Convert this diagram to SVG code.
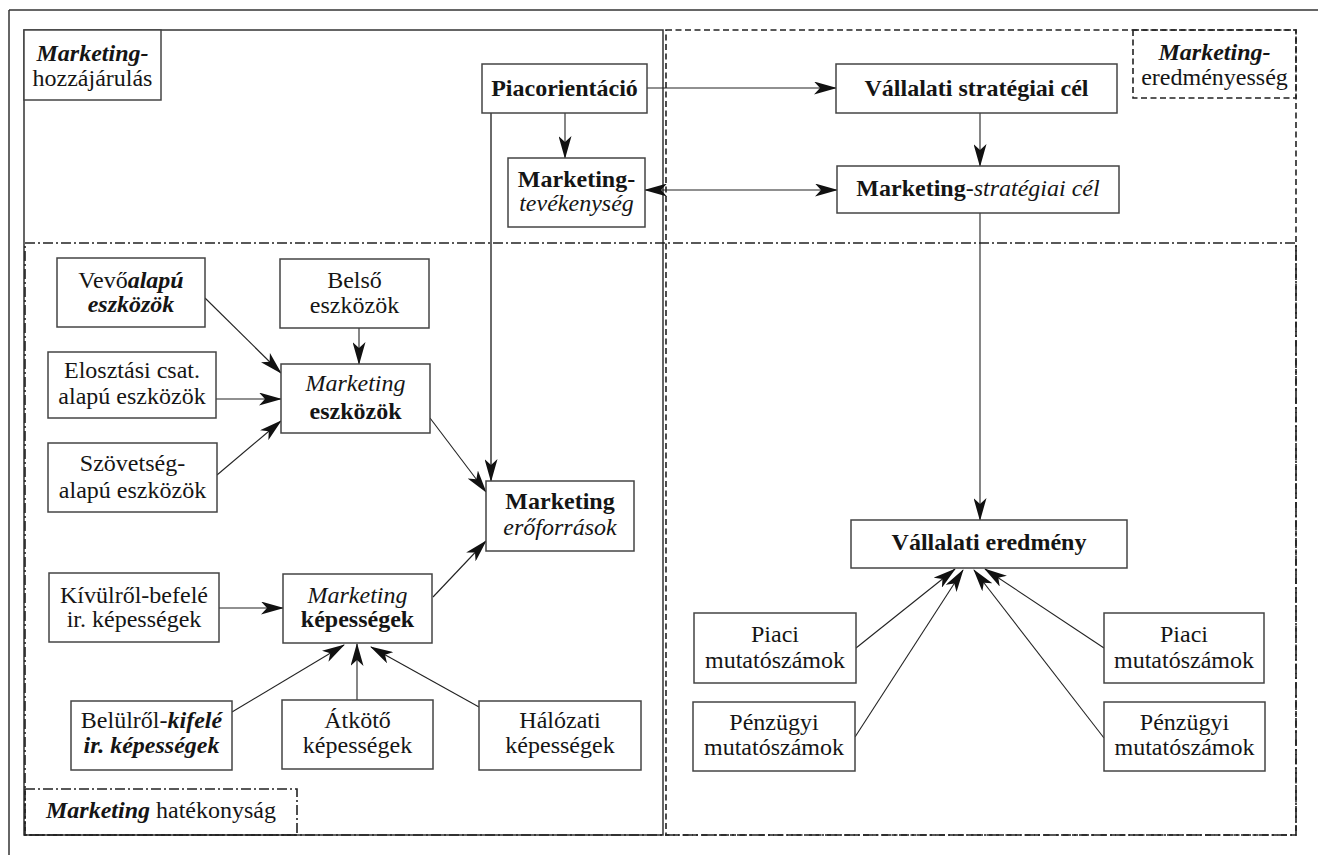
<svg xmlns="http://www.w3.org/2000/svg" width="1318" height="855" viewBox="0 0 1318 855" font-family="'Liberation Serif', 'Times New Roman', serif">
<style>
text{font-family:"Liberation Serif","Times New Roman",serif;font-size:24px;fill:#151515;text-anchor:middle}
.b{font-weight:bold}
.i{font-style:italic}
.bi{font-weight:bold;font-style:italic}
.box{fill:#fff;stroke:#444;stroke-width:1.5}
.con{stroke:#222;stroke-width:1.1;fill:none}
.gray{stroke:#6a6a6a;stroke-width:2}
.solid{fill:none;stroke:#333;stroke-width:1.5}
.dash{fill:none;stroke:#222;stroke-width:1.6;stroke-dasharray:6 3.5}
.dashdot{fill:none;stroke:#222;stroke-width:1.6;stroke-dasharray:10 3 2 3}
</style>
<defs>
<marker id="ah" markerUnits="userSpaceOnUse" markerWidth="23" markerHeight="13" refX="22" refY="6.5" orient="auto-start-reverse" viewBox="0 0 23 13">
<path d="M0,0 L23,6.5 L0,13 L6,6.5 z" fill="#111"/>
</marker>
</defs>

<g id="frame">
<line x1="9" y1="10" x2="1318" y2="10" class="solid"/>
<line x1="9" y1="10" x2="9" y2="855" class="solid"/>
</g>

<g id="regions">
<rect id="region-hozzajarulas" x="24" y="30" width="639" height="805" class="solid"/>
<rect id="region-eredmenyesseg" x="666" y="30" width="630" height="805" class="dash"/>
<rect id="region-hatekonysag" x="25" y="243" width="1271" height="592" class="dashdot"/>
</g>

<g id="region-labels">
<g id="label-hozzajarulas">
<rect x="24" y="30" width="137" height="70" fill="#fff" stroke="#444" stroke-width="1.5"/>
<text x="92.5" y="61"><tspan class="bi">Marketing-</tspan></text>
<text x="92.5" y="86">hozzájárulás</text>
</g>
<g id="label-eredmenyesseg">
<rect x="1133" y="30" width="163" height="68" fill="#fff" class="dash"/>
<text x="1214.5" y="60"><tspan class="bi">Marketing-</tspan></text>
<text x="1214.5" y="85">eredményesség</text>
</g>
<g id="label-hatekonysag">
<rect x="25" y="789" width="272" height="46" fill="#fff" class="dashdot"/>
<text x="161" y="818"><tspan class="bi">Marketing</tspan> hatékonyság</text>
</g>
</g>

<g id="connectors">
<line class="con" x1="647" y1="88" x2="836" y2="88" marker-end="url(#ah)"/>
<line class="con" x1="565" y1="113" x2="565" y2="158" marker-end="url(#ah)"/>
<line class="con" x1="645" y1="190" x2="837" y2="190" marker-start="url(#ah)" marker-end="url(#ah)"/>
<line class="con" x1="980" y1="113" x2="980" y2="166" marker-end="url(#ah)"/>
<line class="con" x1="980" y1="213" x2="980" y2="520" marker-end="url(#ah)"/>
<line class="con gray" x1="491" y1="113" x2="491" y2="481" marker-end="url(#ah)"/>
<line class="con" x1="205" y1="298" x2="281" y2="373" marker-end="url(#ah)"/>
<line class="con" x1="359" y1="328" x2="359" y2="364" marker-end="url(#ah)"/>
<line class="con" x1="216" y1="399" x2="281" y2="399" marker-end="url(#ah)"/>
<line class="con" x1="217" y1="475" x2="281" y2="421" marker-end="url(#ah)"/>
<line class="con" x1="430" y1="418" x2="486" y2="492" marker-end="url(#ah)"/>
<line class="con" x1="219" y1="608" x2="283" y2="608" marker-end="url(#ah)"/>
<line class="con" x1="433" y1="597" x2="486" y2="541" marker-end="url(#ah)"/>
<line class="con" x1="232" y1="712" x2="344" y2="645" marker-end="url(#ah)"/>
<line class="con" x1="357" y1="700" x2="357" y2="644" marker-end="url(#ah)"/>
<line class="con" x1="479" y1="707" x2="371" y2="647" marker-end="url(#ah)"/>
<line class="con" x1="856" y1="648" x2="955" y2="569" marker-end="url(#ah)"/>
<line class="con" x1="855" y1="737" x2="963" y2="570" marker-end="url(#ah)"/>
<line class="con" x1="1104" y1="738" x2="974" y2="570" marker-end="url(#ah)"/>
<line class="con" x1="1104" y1="648" x2="985" y2="569" marker-end="url(#ah)"/>
</g>

<g id="piacorientacio">
<rect class="box" x="482" y="64" width="165" height="49"/>
<text x="564.5" y="96" class="b">Piacorientáció</text>
</g>
<g id="marketing-tevekenyseg">
<rect class="box" x="508" y="158" width="137" height="69"/>
<text x="576.5" y="187" class="b">Marketing-</text>
<text x="576.5" y="211" class="i">tevékenység</text>
</g>
<g id="vallalati-strategiai-cel">
<rect class="box" x="836" y="64" width="281" height="49"/>
<text x="976.5" y="96" class="b">Vállalati stratégiai cél</text>
</g>
<g id="marketing-strategiai-cel">
<rect class="box" x="837" y="166" width="282" height="47"/>
<text x="978" y="196"><tspan class="b">Marketing</tspan><tspan class="i">-stratégiai cél</tspan></text>
</g>

<g id="vevoalapu">
<rect class="box" x="57" y="258" width="148" height="69"/>
<text x="131" y="288">Vevő<tspan class="bi">alapú</tspan></text>
<text x="131" y="312" class="bi">eszközök</text>
</g>
<g id="belso">
<rect class="box" x="280" y="259" width="149" height="69"/>
<text x="354.5" y="288">Belső</text>
<text x="354.5" y="313">eszközök</text>
</g>
<g id="elosztasi">
<rect class="box" x="48" y="352" width="168" height="66"/>
<text x="132" y="378">Elosztási csat.</text>
<text x="132" y="404">alapú eszközök</text>
</g>
<g id="marketing-eszkozok">
<rect class="box" x="281" y="364" width="149" height="69"/>
<text x="355.5" y="391" class="i">Marketing</text>
<text x="355.5" y="419" class="b">eszközök</text>
</g>
<g id="szovetseg">
<rect class="box" x="48" y="443" width="169" height="69"/>
<text x="132.5" y="471">Szövetség-</text>
<text x="132.5" y="498">alapú eszközök</text>
</g>
<g id="marketing-eroforrasok">
<rect class="box" x="486" y="481" width="148" height="70"/>
<text x="560" y="509" class="b">Marketing</text>
<text x="560" y="535" class="i">erőforrások</text>
</g>
<g id="kivulrol">
<rect class="box" x="49" y="573" width="170" height="69"/>
<text x="134" y="603">Kívülről-befelé</text>
<text x="134" y="627">ir. képességek</text>
</g>
<g id="marketing-kepessegek">
<rect class="box" x="283" y="574" width="149" height="69"/>
<text x="357.5" y="603" class="i">Marketing</text>
<text x="357.5" y="627" class="b">képességek</text>
</g>
<g id="belulrol">
<rect class="box" x="71" y="701" width="161" height="69"/>
<text x="151.5" y="728">Belülről-<tspan class="bi">kifelé</tspan></text>
<text x="151.5" y="753" class="bi">ir. képességek</text>
</g>
<g id="atkoto">
<rect class="box" x="282" y="700" width="151" height="69"/>
<text x="357.5" y="728">Átkötő</text>
<text x="357.5" y="753">képességek</text>
</g>
<g id="halozati">
<rect class="box" x="479" y="701" width="162" height="69"/>
<text x="560" y="728">Hálózati</text>
<text x="560" y="753">képességek</text>
</g>

<g id="vallalati-eredmeny">
<rect class="box" x="851" y="520" width="276" height="48"/>
<text x="989" y="550" class="b">Vállalati eredmény</text>
</g>
<g id="piaci-bal">
<rect class="box" x="694" y="613" width="162" height="70"/>
<text x="775" y="642">Piaci</text>
<text x="775" y="668">mutatószámok</text>
</g>
<g id="penzugyi-bal">
<rect class="box" x="693" y="702" width="162" height="69"/>
<text x="774" y="730">Pénzügyi</text>
<text x="774" y="755">mutatószámok</text>
</g>
<g id="piaci-jobb">
<rect class="box" x="1104" y="613" width="160" height="70"/>
<text x="1184" y="642">Piaci</text>
<text x="1184" y="668">mutatószámok</text>
</g>
<g id="penzugyi-jobb">
<rect class="box" x="1104" y="702" width="161" height="69"/>
<text x="1184.5" y="730">Pénzügyi</text>
<text x="1184.5" y="755">mutatószámok</text>
</g>
</svg>
